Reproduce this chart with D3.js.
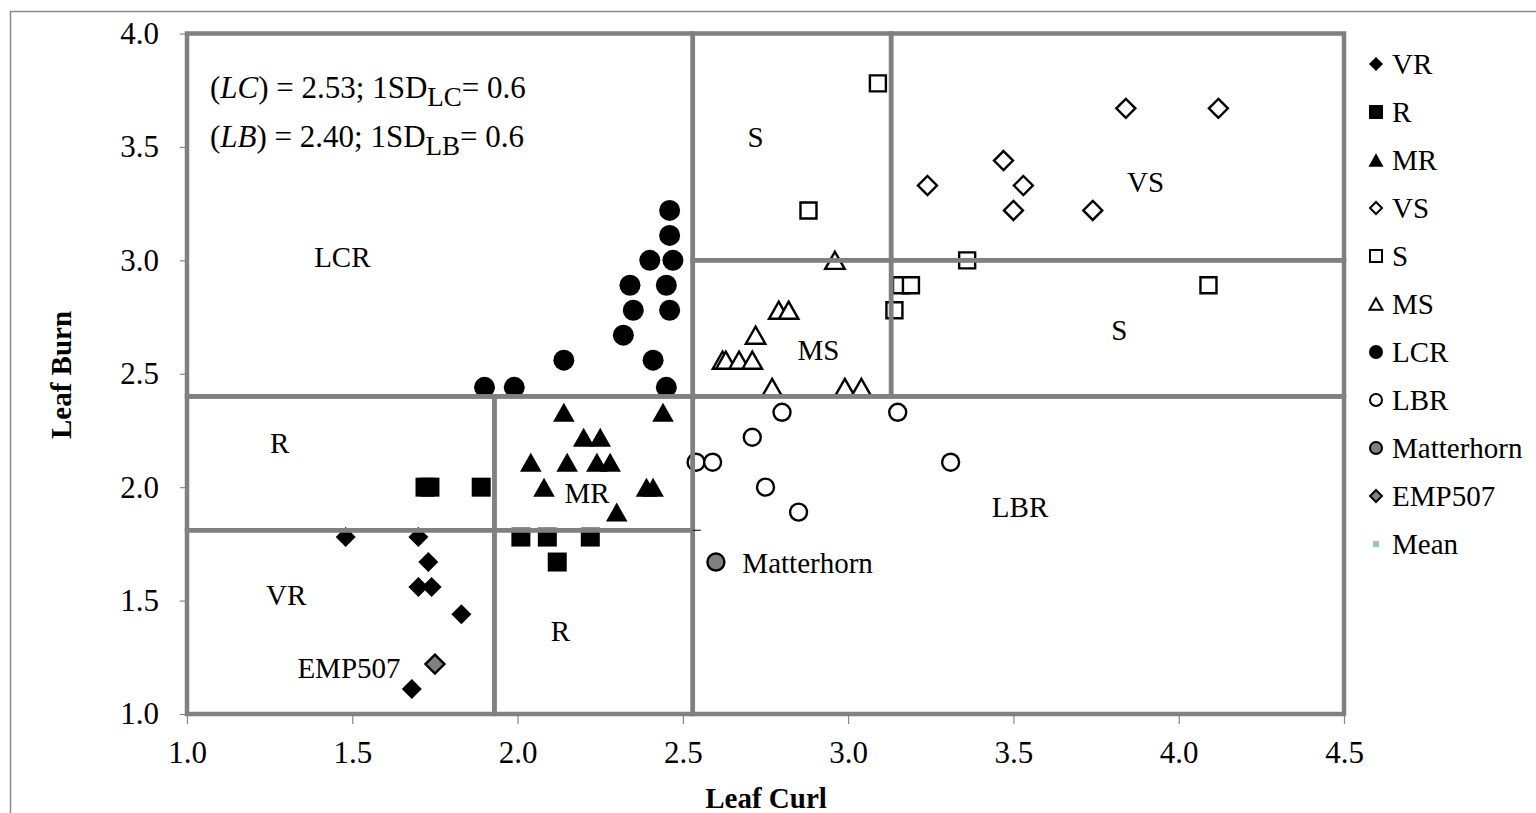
<!DOCTYPE html>
<html>
<head>
<meta charset="utf-8">
<script src="https://cdn.jsdelivr.net/npm/d3@7"></script>
<style>
  body { margin: 0; background: #fff; }
  svg { display: block; font-family: "Liberation Serif", "Times New Roman", serif; }
</style>
</head>
<body>
<svg width="1536" height="813"></svg>
<script>
// points are [leaf curl, leaf burn]
const VR = [[1.48,1.78],[1.70,1.78],[1.73,1.67],[1.70,1.56],[1.74,1.56],[1.83,1.44],[1.68,1.11]];
const R = [[1.72,2.00],[1.735,2.00],[1.89,2.00],[2.01,1.78],[2.09,1.78],[2.22,1.78],[2.12,1.67]];
const MR = [[2.14,2.33],[2.44,2.33],[2.20,2.22],[2.25,2.22],[2.04,2.11],[2.15,2.11],[2.24,2.11],
            [2.28,2.11],[2.08,2.00],[2.39,2.00],[2.41,2.00],[2.30,1.89]];
const VS = [[3.84,3.67],[4.12,3.67],[3.47,3.44],[3.24,3.33],[3.53,3.33],[3.50,3.22],[3.74,3.22]];
const S = [[3.09,3.78],[2.88,3.22],[3.36,3.00],[3.16,2.89],[3.19,2.89],[3.14,2.78],[4.09,2.89]];
const MS = [[2.96,3.00],[2.79,2.78],[2.82,2.78],[2.72,2.67],[2.62,2.56],[2.63,2.56],[2.67,2.56],
            [2.71,2.56],[2.77,2.44],[2.99,2.44],[3.04,2.44]];
const LCR = [[2.46,3.22],[2.46,3.11],[2.40,3.00],[2.47,3.00],[2.34,2.89],[2.45,2.89],[2.35,2.78],
             [2.46,2.78],[2.32,2.67],[2.14,2.56],[2.41,2.56],[1.90,2.44],[1.99,2.44],[2.45,2.44]];
const LBR = [[2.54,2.11],[2.59,2.11],[2.71,2.22],[2.80,2.33],[3.15,2.33],[2.75,2.00],[2.85,1.89],[3.31,2.11]];
const Matterhorn = [[2.60,1.67]];
const EMP507 = [[1.75,1.22]];
const Mean = [[2.53,2.40]];

// class boundaries (mean +/- 1 SD)
const lcCuts = [1.93, 2.53, 3.13];
const lbCuts = [1.81, 2.40, 3.00];

const xTicks = [1.0, 1.5, 2.0, 2.5, 3.0, 3.5, 4.0, 4.5];
const yTicks = [1.0, 1.5, 2.0, 2.5, 3.0, 3.5, 4.0];

// zone labels: text, leaf curl, leaf burn
const zoneLabels = [["LCR",1.47,2.97],["S",2.72,3.50],["VS",3.90,3.30],["MS",2.91,2.56],["S",3.82,2.65],
                    ["R",1.28,2.15],["MR",2.21,1.93],["VR",1.30,1.48],["R",2.13,1.32],["EMP507",1.49,1.16],
                    ["LBR",3.52,1.87]];

const svg = d3.select('svg');

const x = d3.scaleLinear().domain([1, 4.5]).range([187, 1344]);
const y = d3.scaleLinear().domain([1, 4]).range([714, 33.5]);

// outer chart border
svg.append('rect')
    .attr('x', 10.5).attr('y', 11.5)
    .attr('width', 1600).attr('height', 900)
    .attr('fill', 'none').attr('stroke', '#8a8a8a').attr('stroke-width', 1.5);

function markerPath(shape, s) {
    const h = s / 2;
    if (shape == 'diamond') return `M0,${-h}L${h},0L0,${h}L${-h},0Z`;
    if (shape == 'square') return `M${-h},${-h}H${h}V${h}H${-h}Z`;
    if (shape == 'triangle') return `M0,${-h*0.95}L${h*1.08},${h*0.95}L${-h*1.08},${h*0.95}Z`;
    return `M${h},0A${h},${h} 0 1,1 ${-h},0A${h},${h} 0 1,1 ${h},0Z`;
}

const series = [
    {name: 'VR', data: VR, shape: 'diamond', size: 20, fill: '#000', stroke: 'none'},
    {name: 'R', data: R, shape: 'square', size: 19, fill: '#000', stroke: 'none'},
    {name: 'MR', data: MR, shape: 'triangle', size: 20, fill: '#000', stroke: 'none'},
    {name: 'VS', data: VS, shape: 'diamond', size: 19, fill: '#fff', stroke: '#000'},
    {name: 'S', data: S, shape: 'square', size: 16, fill: '#fff', stroke: '#000'},
    {name: 'MS', data: MS, shape: 'triangle', size: 18, fill: '#fff', stroke: '#000'},
    {name: 'LCR', data: LCR, shape: 'circle', size: 21, fill: '#000', stroke: 'none'},
    {name: 'LBR', data: LBR, shape: 'circle', size: 17, fill: '#fff', stroke: '#000'},
    {name: 'Matterhorn', data: Matterhorn, shape: 'circle', size: 17, fill: '#808080', stroke: '#000'},
    {name: 'EMP507', data: EMP507, shape: 'diamond', size: 19, fill: '#808080', stroke: '#000'},
    {name: 'Mean', data: Mean, shape: 'square', size: 6, fill: '#93c6db', stroke: 'none'}
];

// axes
const xAxis = svg.append('g')
    .attr('transform', `translate(0,${y(1)})`)
    .call(d3.axisBottom(x).tickValues(xTicks).tickFormat(d3.format('.1f')).tickSize(10).tickPadding(17));
const yAxis = svg.append('g')
    .attr('transform', `translate(${x(1)},0)`)
    .call(d3.axisLeft(y).tickValues(yTicks).tickFormat(d3.format('.1f')).tickSize(7).tickPadding(21));

[xAxis, yAxis].forEach(g => {
    g.select('.domain').remove();
    g.selectAll('.tick line').attr('stroke', '#868686').attr('stroke-width', 1.2);
    g.selectAll('.tick text')
        .attr('fill', '#000')
        .style('font-family', '"Liberation Serif", serif')
        .style('font-size', '31px');
});

// markers
series.forEach(s => {
    svg.append('g').attr('class', 'series-' + s.name)
        .selectAll('path')
        .data(s.data).enter()
        .append('path')
            .attr('d', markerPath(s.shape, s.size))
            .attr('transform', d => `translate(${x(d[0])},${y(d[1])})`)
            .attr('fill', s.fill)
            .attr('stroke', s.stroke)
            .attr('stroke-width', 2.4)
            .attr('stroke-linejoin', 'miter');
});

// class boxes
const zones = [
    [1, lcCuts[1], lbCuts[1], 4], [lcCuts[1], lcCuts[2], lbCuts[2], 4], [lcCuts[2], 4.5, lbCuts[2], 4],
    [lcCuts[1], lcCuts[2], lbCuts[1], lbCuts[2]], [lcCuts[2], 4.5, lbCuts[1], lbCuts[2]],
    [1, lcCuts[0], lbCuts[0], lbCuts[1]], [lcCuts[0], lcCuts[1], lbCuts[0], lbCuts[1]],
    [1, lcCuts[0], 1, lbCuts[0]], [lcCuts[0], lcCuts[1], 1, lbCuts[0]], [lcCuts[1], 4.5, 1, lbCuts[1]]
];
svg.append('g').attr('id', 'zones')
    .selectAll('rect')
    .data(zones).enter()
    .append('rect')
        .attr('x', d => x(d[0]))
        .attr('y', d => y(d[3]))
        .attr('width', d => x(d[1]) - x(d[0]))
        .attr('height', d => y(d[2]) - y(d[3]))
        .attr('fill', 'none')
        .attr('stroke', '#808080')
        .attr('stroke-width', 4.5);

// little stub past the MR box corner
svg.append('line')
    .attr('x1', x(lcCuts[1])).attr('x2', x(lcCuts[1]) + 8)
    .attr('y1', y(lbCuts[0])).attr('y2', y(lbCuts[0]))
    .attr('stroke', '#000').attr('stroke-width', 1);

// zone labels
svg.append('g')
    .selectAll('text')
    .data(zoneLabels).enter()
    .append('text')
        .attr('x', d => x(d[1]))
        .attr('y', d => y(d[2]))
        .attr('text-anchor', 'middle')
        .style('font-size', '29px')
        .text(d => d[0]);

svg.append('text')
    .attr('x', x(2.68)).attr('y', y(1.62))
    .style('font-size', '29px')
    .text('Matterhorn');

// mean / SD note
const note = [["LC", "2.53", "0.6"], ["LB", "2.40", "0.6"]];
note.forEach((n, i) => {
    const t = svg.append('text')
        .attr('x', 210).attr('y', 98 + i * 49)
        .style('font-size', '31px');
    t.append('tspan').text('(');
    t.append('tspan').style('font-style', 'italic').text(n[0]);
    t.append('tspan').text(`) = ${n[1]}; 1SD`);
    t.append('tspan').attr('dy', 8).style('font-size', '27px').text(n[0]);
    t.append('tspan').attr('dy', -8).text(`= ${n[2]}`);
});

// axis titles
svg.append('text')
    .attr('x', 766).attr('y', 808)
    .attr('text-anchor', 'middle')
    .style('font-size', '29px').style('font-weight', 'bold')
    .text('Leaf Curl');
svg.append('text')
    .attr('transform', 'translate(71,375) rotate(-90)')
    .attr('text-anchor', 'middle')
    .style('font-size', '29px').style('font-weight', 'bold')
    .text('Leaf Burn');

// legend
const legend = svg.append('g').attr('id', 'legend')
    .selectAll('g')
    .data(series).enter()
    .append('g')
        .attr('transform', (d, i) => `translate(1376,${64 + i * 48})`);
legend.append('path')
    .attr('d', d => markerPath(d.shape, d.name == 'Mean' ? 6 : (d.stroke == 'none' ? 14 : 12)))
    .attr('fill', d => d.fill)
    .attr('stroke', d => d.stroke)
    .attr('stroke-width', 2);
legend.append('text')
    .attr('x', 16).attr('y', 10)
    .style('font-size', '29px')
    .text(d => d.name);
</script>
</body>
</html>
